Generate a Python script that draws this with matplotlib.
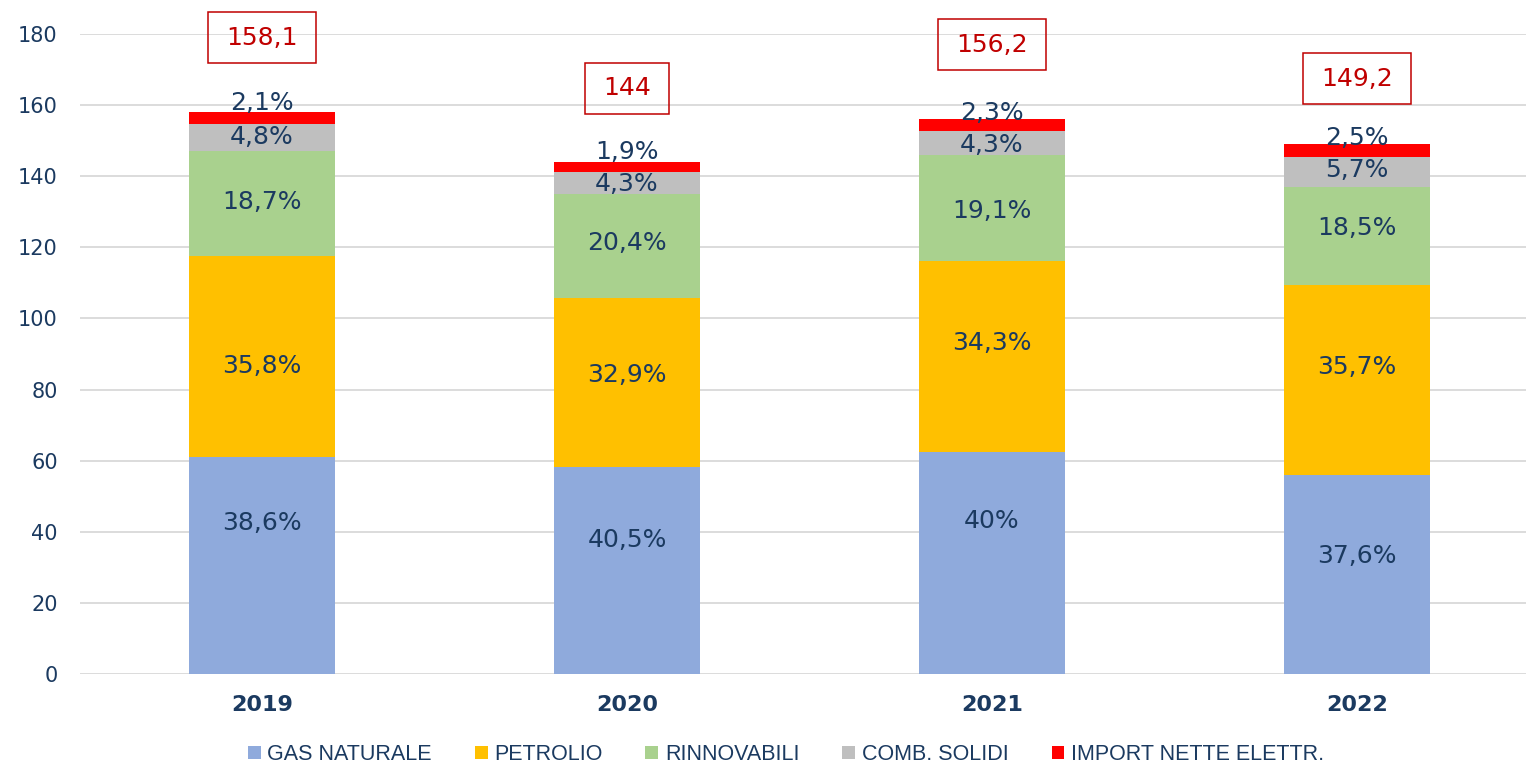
import matplotlib
matplotlib.use("Agg")
import matplotlib.pyplot as plt
import numpy as np
from matplotlib import font_manager
from matplotlib.patches import Rectangle
from matplotlib.transforms import IdentityTransform

years = ["2019", "2020", "2021", "2022"]
series_names = ["GAS NATURALE", "PETROLIO", "RINNOVABILI", "COMB. SOLIDI", "IMPORT NETTE ELETTR."]
gas = [61.0, 58.3, 62.5, 56.1]
petrolio = [56.6, 47.4, 53.6, 53.3]
rinnovabili = [29.6, 29.4, 29.8, 27.6]
solidi = [7.6, 6.2, 6.7, 8.5]
importe = [3.3, 2.7, 3.6, 3.7]
pct_gas = ["38,6%", "40,5%", "40%", "37,6%"]
pct_petrolio = ["35,8%", "32,9%", "34,3%", "35,7%"]
pct_rinn = ["18,7%", "20,4%", "19,1%", "18,5%"]
pct_solidi = ["4,8%", "4,3%", "4,3%", "5,7%"]
pct_import = ["2,1%", "1,9%", "2,3%", "2,5%"]
totals = ["158,1", "144", "156,2", "149,2"]

# label placement tweaks (pixels, upward), as in the original chart
lab_shift = [
    [43, 30, 42, 18],    # gas (centre + shift)
    [-10, 7, 13, 13],    # petrolio
    [1, 3, -3, 8],       # rinnovabili
    [0, -1, -2, 2],      # solidi
    [9, 10, 6, 6],       # import (above top)
]
total_shift = [74, 74, 74, 65]

colors = ["#8FAADC", "#FFC000", "#A9D18E", "#BFBFBF", "#FF0000"]
txt_col = "#1B3A60"
red_col = "#C00000"

avail = {f.name for f in font_manager.fontManager.ttflist}
narrow = "Liberation Sans Narrow" if "Liberation Sans Narrow" in avail else "Liberation Sans"
leg_size = 18.5 if narrow == "Liberation Sans Narrow" else 15.5

fig = plt.figure(figsize=(15.26, 7.66), dpi=100)
ax = fig.add_axes([80/1526, (766-674)/766, 1446/1526, 640/766])

x = np.arange(len(years))
w = 0.4
series = [gas, petrolio, rinnovabili, solidi, importe]
labels = [pct_gas, pct_petrolio, pct_rinn, pct_solidi, pct_import]
bottom = np.zeros(len(years))
handles = []
for i, (vals, lab) in enumerate(zip(series, labels)):
    vals = np.array(vals)
    b = ax.bar(x, vals, w, bottom=bottom, color=colors[i], label=series_names[i], zorder=3)
    handles.append(b)
    for j in range(len(years)):
        if i < 4:
            anchor = bottom[j] + vals[j] / 2
        else:
            anchor = bottom[j] + vals[j]
        ax.annotate(lab[j], (x[j], anchor), xytext=(0, lab_shift[i][j]),
                    textcoords="offset pixels", ha="center", va="center",
                    fontsize=18, color=txt_col, zorder=5, annotation_clip=False)
    bottom = bottom + vals

tot_texts = []
for j in range(len(years)):
    t = ax.annotate(totals[j], (x[j], bottom[j]), xytext=(0, total_shift[j]),
                    textcoords="offset pixels", ha="center", va="center", fontsize=18,
                    color=red_col, zorder=6, annotation_clip=False)
    tot_texts.append(t)

ax.set_xlim(-0.4986, -0.4986 + 1446/365)
ax.set_ylim(0, 180)
ax.set_yticks(np.arange(0, 181, 20))
ax.set_xticks(x)
ax.set_xticklabels(years, fontsize=16, fontweight="bold", color=txt_col)
ax.tick_params(axis="y", labelsize=15, labelcolor=txt_col, length=0, pad=16)
ax.tick_params(axis="x", length=0, pad=15)
ax.grid(axis="y", color="#D9D9D9", lw=1.3, zorder=0)
for s in ax.spines.values():
    s.set_visible(False)

leg = fig.legend(handles=handles, labels=series_names, loc="center", bbox_to_anchor=(0.515, 0.015),
                 ncol=5, frameon=False, prop={"family": narrow, "size": leg_size},
                 handlelength=0.6, handleheight=0.6, handletextpad=0.3, columnspacing=2.0)
for t in leg.get_texts():
    t.set_color(txt_col)

# boxes around totals, sized from rendered text extents
fig.canvas.draw()
r = fig.canvas.get_renderer()
for t in tot_texts:
    bb = t.get_window_extent(r)
    cx, cy = (bb.x0 + bb.x1) / 2, (bb.y0 + bb.y1) / 2
    wpx = bb.width + 36
    hpx = 51
    rect = Rectangle((cx - wpx / 2, cy - hpx / 2), wpx, hpx, transform=IdentityTransform(),
                     fill=False, ec=red_col, lw=1.1, zorder=6)
    fig.patches.append(rect)

fig.savefig("out.png", dpi=100)
